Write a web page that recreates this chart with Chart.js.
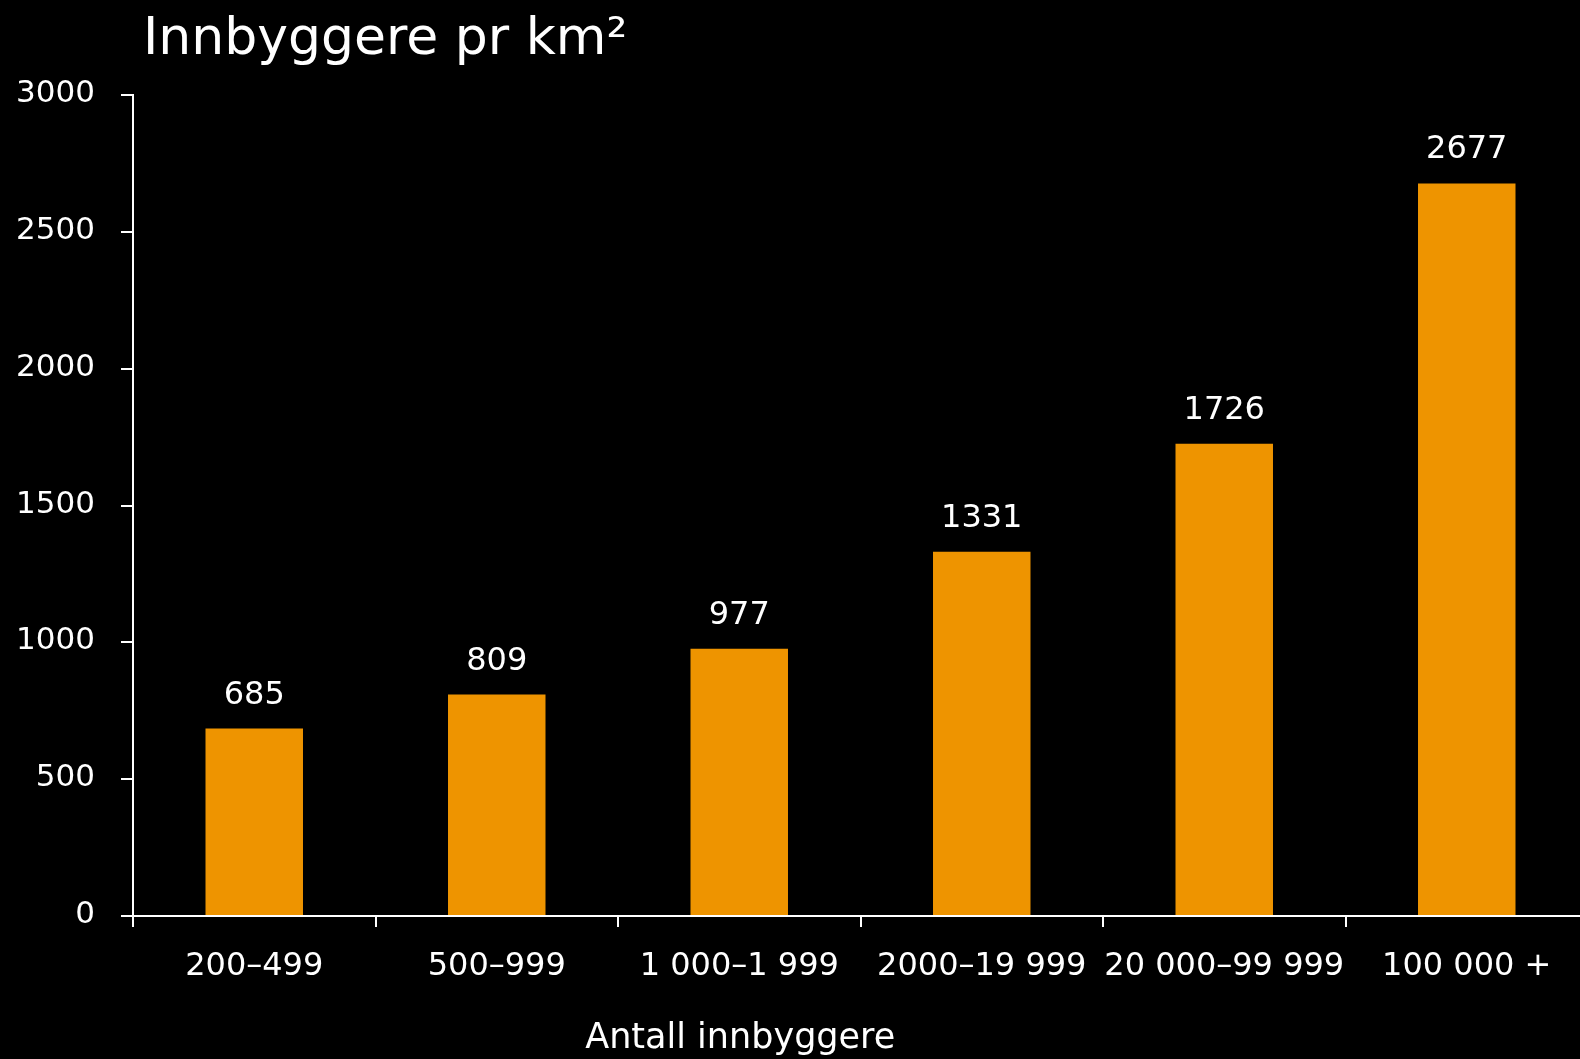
<!DOCTYPE html>
<html>
<head>
<meta charset="utf-8">
<script src="https://cdn.jsdelivr.net/npm/chart.js@4"></script>
<style>
  html, body { margin: 0; padding: 0; background: #000; overflow: hidden; width: 1580px; height: 1059px; }
  #wrap { width: 1580px; height: 1059px; position: relative; overflow: hidden; }
  canvas { display: block; }
</style>
</head>
<body>
<div id="wrap"><canvas id="c" width="1588" height="1059"></canvas></div>
<script>
const chartTitle = 'Innbyggere pr km²';
const xAxisTitle = 'Antall innbyggere';
const categories = ['200–499', '500–999', '1 000–1 999', '2000–19 999', '20 000–99 999', '100 000 +'];
const values = [685, 809, 977, 1331, 1726, 2677];
const yMin = 0, yMax = 3000, yStep = 500;

const FONT = '"DejaVu Sans", sans-serif';
const WHITE = '#ffffff';
const BAR = '#EE9400';

const overlay = {
  id: 'overlay',
  afterDatasetsDraw(chart) {
    const ctx = chart.ctx;
    ctx.save();
    ctx.fillStyle = WHITE;
    ctx.font = '32px ' + FONT;
    ctx.textAlign = 'center';
    ctx.textBaseline = 'alphabetic';
    chart.getDatasetMeta(0).data.forEach((bar, i) => {
      ctx.fillText(String(values[i]), bar.x, bar.y - 25);
    });
    ctx.font = '52px ' + FONT;
    ctx.textAlign = 'left';
    ctx.fillText(chartTitle, 143, 54);
    const xs = chart.scales.x;
    ctx.font = '35px ' + FONT;
    ctx.textAlign = 'center';
    ctx.fillText(xAxisTitle, xs.getPixelForTick(2) + 1, 1048);
    ctx.restore();
  }
};

new Chart(document.getElementById('c'), {
  type: 'bar',
  data: {
    labels: categories,
    datasets: [{
      data: values,
      backgroundColor: BAR,
      borderWidth: 0,
      barPercentage: 0.402,
      categoryPercentage: 1.0
    }]
  },
  options: {
    responsive: false,
    animation: false,
    events: [],
    layout: { padding: { top: 95, left: 0, right: 0, bottom: 0 } },
    plugins: { legend: { display: false }, title: { display: false }, tooltip: { enabled: false } },
    scales: {
      x: {
        grid: { display: true, drawOnChartArea: false, drawTicks: true, tickLength: 11, color: WHITE, lineWidth: 2, offset: true },
        border: { display: true, color: WHITE, width: 2 },
        ticks: { color: WHITE, font: { family: FONT, size: 32 }, padding: 20, maxRotation: 0, minRotation: 0, autoSkip: false },
        afterFit(scale) { scale.height = 1059 - 916; }
      },
      y: {
        min: yMin, max: yMax,
        grid: { display: true, drawOnChartArea: false, drawTicks: true, tickLength: 12, color: WHITE, lineWidth: 2 },
        border: { display: true, color: WHITE, width: 2 },
        ticks: { stepSize: yStep, color: WHITE, font: { family: FONT, size: 31 }, padding: 26, labelOffset: -1,
                 callback: (v) => String(v) },
        afterFit(scale) { scale.width = 133; }
      }
    }
  },
  plugins: [overlay]
});
</script>
</body>
</html>
